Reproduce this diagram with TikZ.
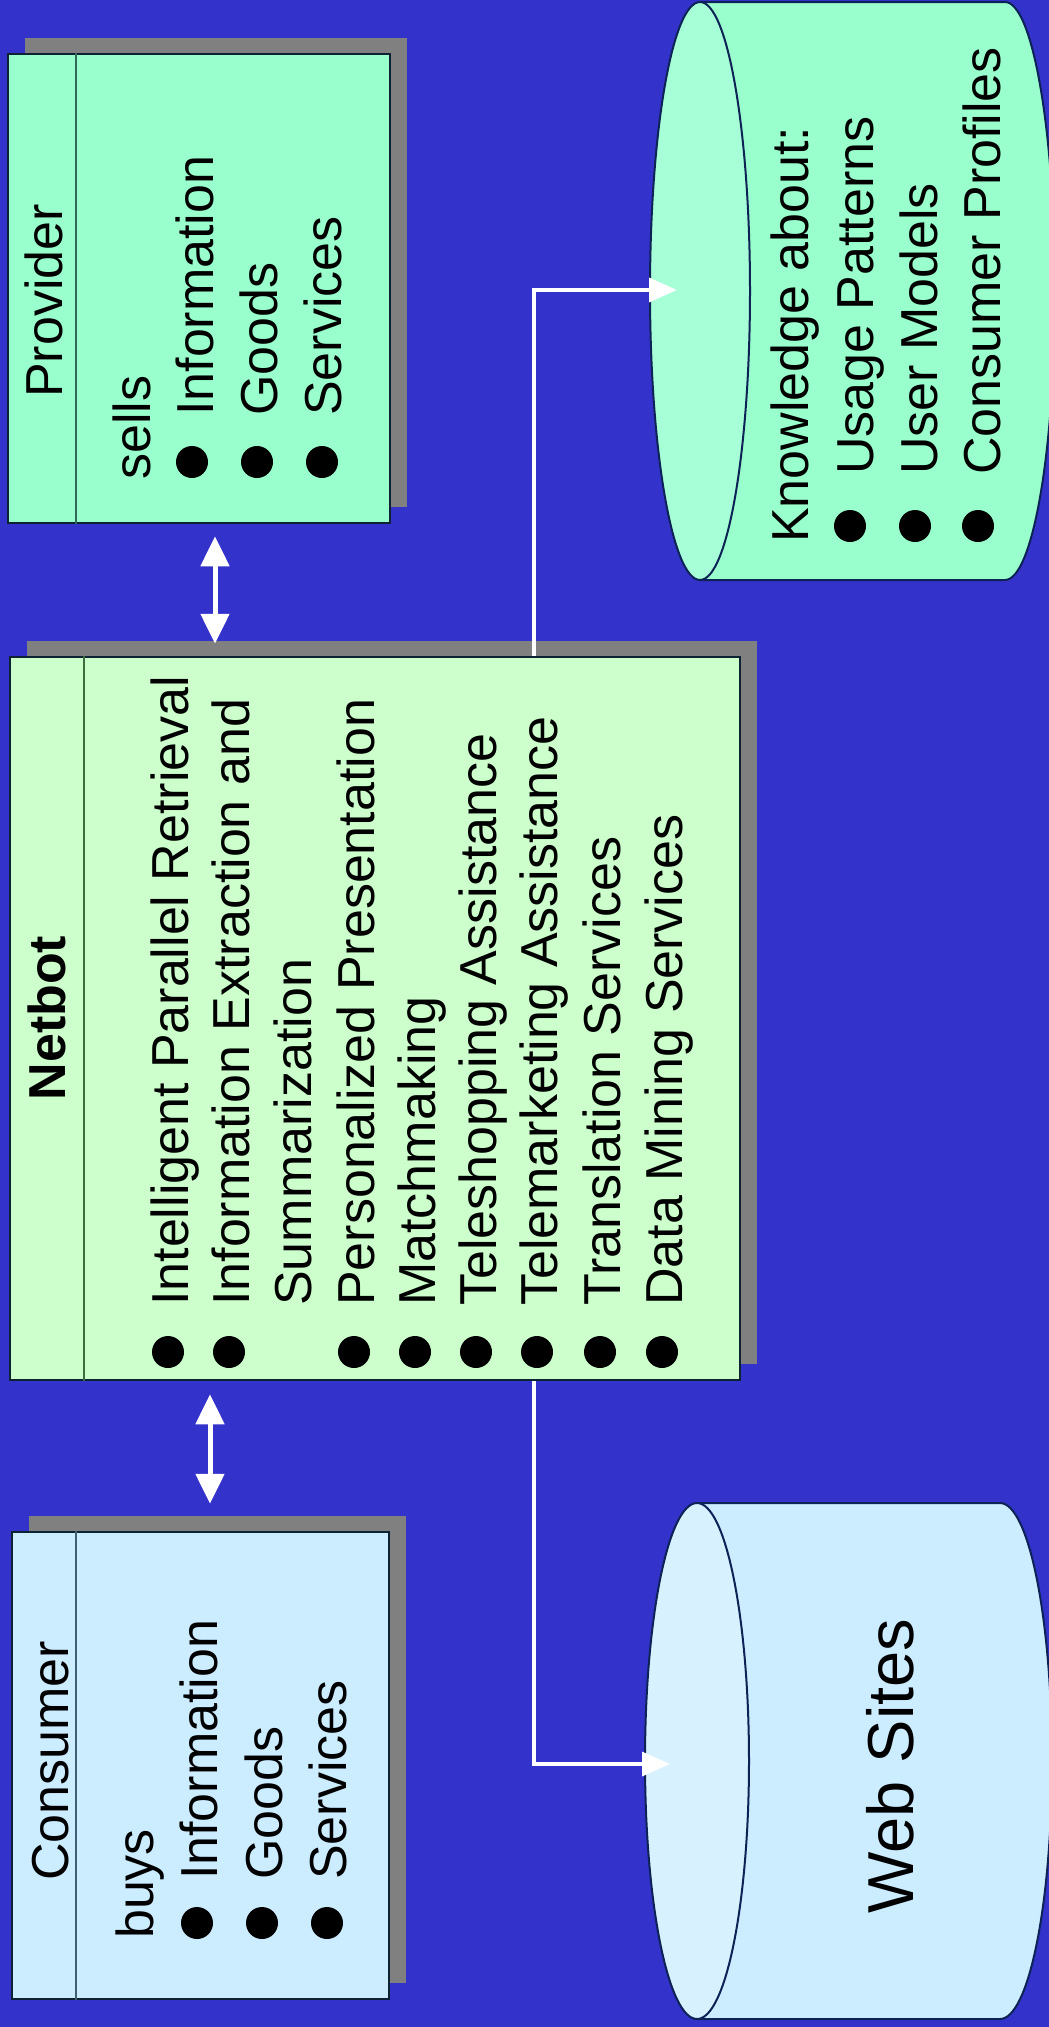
\documentclass[tikz,border=0pt]{standalone}
\usepackage{fontspec}
\setmainfont{Liberation Sans}
\usetikzlibrary{arrows.meta,shadows}
\definecolor{bgblue}{HTML}{3333CC}
\definecolor{mint}{HTML}{99FFCC}
\definecolor{mintlight}{HTML}{A6FFD6}
\definecolor{palegreen}{HTML}{CCFFCC}
\definecolor{paleblue}{HTML}{CCECFF}
\definecolor{paleblueL}{HTML}{D8F1FF}
\definecolor{bordcol}{HTML}{0D2233}
\definecolor{divprov}{HTML}{2E6B55}
\definecolor{divnet}{HTML}{3D6B3D}
\definecolor{divcons}{HTML}{3D5F70}
\definecolor{shgray}{HTML}{808080}
\definecolor{cylline}{HTML}{0D2255}
\tikzset{
  boxnode/.style={rectangle, draw=bordcol, line width=2.5pt, inner sep=0pt,
    general shadow={fill=shgray, shadow xshift=17pt, shadow yshift=16pt}},
  txt/.style={rotate=90, anchor=base west, inner sep=0pt, text=black,
    font=\fontsize{52}{62}\selectfont},
  ttl/.style={rotate=90, anchor=base, inner sep=0pt, text=black,
    font=\fontsize{52}{62}\selectfont},
  dbl/.style={draw=white, line width=5pt,
    {Triangle[width=28pt,length=30pt]}-{Triangle[width=28pt,length=30pt]}},
  link/.style={draw=white, line width=3.5pt, -{Triangle[width=24pt,length=28pt]}},
  cylbody/.style={draw=cylline, line width=2pt},
}
\begin{document}
\begin{tikzpicture}[x=1pt,y=1pt]
\useasboundingbox (0,0) rectangle (1049,-2027);
\clip (0,0) rectangle (1049,-2027);
\fill[bgblue] (0,0) rectangle (1049,-2027);

% ---------- boxes ----------
\node[boxnode, fill=mint, minimum width=382pt, minimum height=469pt] (prov) at (199,-288.5) {};
\node[boxnode, fill=palegreen, minimum width=730pt, minimum height=723pt] (net) at (375,-1018.5) {};
\node[boxnode, fill=paleblue, minimum width=377pt, minimum height=467pt] (cons) at (200.5,-1765.5) {};
\draw[divprov, line width=2.5pt] ([xshift=69pt]prov.north west) -- ([xshift=69pt]prov.south west);
\draw[divnet, line width=2.5pt] ([xshift=75pt]net.north west) -- ([xshift=75pt]net.south west);
\draw[divcons, line width=2.5pt] ([xshift=65pt]cons.north west) -- ([xshift=65pt]cons.south west);

% ---------- cylinders ----------
% Knowledge
\fill[mint] (700,-2) -- (1005,-2) arc[start angle=90, end angle=-90, x radius=50, y radius=289]
  -- (700,-580) arc[start angle=270, end angle=90, x radius=50, y radius=289] -- cycle;
\draw[cylbody] (700,-2) -- (1005,-2) arc[start angle=90, end angle=-90, x radius=50, y radius=289] -- (700,-580);
\draw[cylbody, fill=mintlight] (700,-291) ellipse[x radius=50, y radius=289];
% Web sites
\fill[paleblue] (697,-1503) -- (1000,-1503) arc[start angle=90, end angle=-90, x radius=52, y radius=258]
  -- (697,-2019) arc[start angle=270, end angle=90, x radius=52, y radius=258] -- cycle;
\draw[cylbody] (697,-1503) -- (1000,-1503) arc[start angle=90, end angle=-90, x radius=52, y radius=258] -- (697,-2019);
\draw[cylbody, fill=paleblueL] (697,-1761) ellipse[x radius=52, y radius=258];

% ---------- Provider text ----------
\node[ttl] (ptitle) at (62,-301) {Provider};
\node[txt] (psells) at (150,-480) {sells};
\node[txt] (pi1) at (213,-416) {Information};
\node[txt] (pi2) at (277,-416) {Goods};
\node[txt] (pi3) at (341,-416) {Services};
\foreach \bx in {192,257,322} \fill[black] (\bx,-462) circle (16);

% ---------- Consumer text ----------
\node[ttl] (ctitle) at (68,-1761) {Consumer};
\node[txt] (cbuys) at (153,-1939) {buys};
\node[txt] (ci1) at (217,-1880) {Information};
\node[txt] (ci2) at (282,-1880) {Goods};
\node[txt] (ci3) at (346,-1880) {Services};
\foreach \bx in {197,262,327} \fill[black] (\bx,-1923) circle (16);

% ---------- Netbot text ----------
\node[ttl, font=\fontsize{52}{62}\selectfont\bfseries] (ntitle) at (65,-1018) {Netbot};
\node[txt] (n1) at (188,-1306) {Intelligent Parallel Retrieval};
\node[txt] (n2) at (249,-1306) {Information Extraction and};
\node[txt] (n2b) at (311,-1306) {Summarization};
\node[txt] (n3) at (374,-1306) {Personalized Presentation};
\node[txt] (n4) at (435,-1306) {Matchmaking};
\node[txt] (n5) at (496,-1306) {Teleshopping Assistance};
\node[txt] (n6) at (557,-1306) {Telemarketing Assistance};
\node[txt] (n7) at (620,-1306) {Translation Services};
\node[txt] (n8) at (682,-1306) {Data Mining Services};
\foreach \bx in {168,229,354,415,476,537,600,662} \fill[black] (\bx,-1352) circle (16);

% ---------- Knowledge text ----------
\node[txt] (k0) at (808,-543) {Knowledge about:};
\node[txt] (k1) at (873,-475) {Usage Patterns};
\node[txt] (k2) at (937,-475) {User Models};
\node[txt] (k3) at (1000,-475) {Consumer Profiles};
\foreach \bx in {850,915,978} \fill[black] (\bx,-526) circle (16);

% ---------- Web sites text ----------
\node[ttl, font=\fontsize{65}{75}\selectfont] (wtitle) at (913,-1766) {Web Sites};

% ---------- connectors ----------
\coordinate (ax1) at (215,0);
\coordinate (ax2) at (210,0);
\coordinate (vx) at (534,0);
\coordinate (kin) at (677,-290);
\coordinate (win) at (670,-1764);
\draw[dbl, shorten <=12pt, shorten >=12pt] (prov.south -| ax1) -- (net.north -| ax1);
\draw[dbl, shorten <=13pt, shorten >=27pt] (net.south -| ax2) -- (cons.north -| ax2);
\draw[link] (net.north -| vx) |- (kin);
\draw[link] (net.south -| vx) |- (win);
\end{tikzpicture}
\end{document}
